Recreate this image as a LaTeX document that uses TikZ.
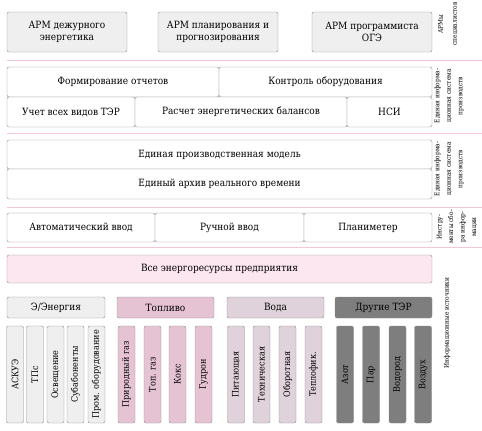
\documentclass[tikz,border=0pt]{standalone}
\usepackage{fontspec}
\setmainfont{DejaVu Serif Condensed}
\definecolor{boxgray}{HTML}{EFEFEF}
\definecolor{edgegray}{HTML}{8C8C8C}
\definecolor{seppink}{HTML}{F5C6D8}
\definecolor{allpink}{HTML}{FCE6EF}
\definecolor{fuelpink}{HTML}{E6C3D3}
\definecolor{watermauve}{HTML}{DFD2DA}
\definecolor{otherdark}{HTML}{7E7E7E}
\tikzset{
  box/.style={draw=edgegray, rounded corners=2pt, inner sep=1pt, align=center, font=\fontsize{10}{12}\selectfont},
  armbox/.style={box, fill=boxgray, minimum width=120pt, minimum height=40pt},
  infobox/.style={box, fill=white, minimum height=30pt},
  allbox/.style={box, fill=allpink, minimum width=425pt, minimum height=28pt},
  headbox/.style={box, minimum width=97pt, minimum height=21pt},
  vbox/.style={box, rotate=90, minimum width=97pt, minimum height=17pt, font=\fontsize{9}{10}\selectfont},
  sidelabel/.style={rotate=90, align=center, inner sep=0pt, font=\fontsize{6.5}{11.5}\selectfont},
  sepline/.style={draw=seppink, line width=0.8pt}
}
\begin{document}
\begin{tikzpicture}[x=1pt, y=-1pt]
\useasboundingbox (0,0) rectangle (482,431);
% workstations
\node[armbox] (duty) at (67,32) {АРМ дежурного\\энергетика};
\node[armbox] (plan) at (218,32) {АРМ планирования и\\прогнозирования};
\node[armbox] (prog) at (372,32) {АРМ программиста\\ОГЭ};
\node[sidelabel, font=\fontsize{6.5}{14}\selectfont] (armlbl) at (448,24) {АРМы\\специалистов};
\coordinate (s1a) at (7,60); \coordinate (s1b) at (482,60);
\draw[sepline] (s1a) -- (s1b);
% applications
\node[infobox, minimum width=212pt] (reports) at (113,82) {Формирование отчетов};
\node[infobox, minimum width=213pt] (control) at (325.5,82) {Контроль оборудования};
\node[infobox, minimum width=128pt] (account) at (71,112) {Учет всех видов ТЭР};
\node[infobox, minimum width=212pt] (balance) at (241,112) {Расчет энергетических балансов};
\node[infobox, minimum width=85pt] (nsi) at (389.5,112) {НСИ};
\node[sidelabel] (applbl) at (449,96) {Единая информа-\\ционная система\\производств};
\coordinate (s2a) at (7,133); \coordinate (s2b) at (482,133);
\draw[sepline] (s2a) -- (s2b);
% model and archive
\node[infobox, minimum width=425pt, minimum height=29pt] (model) at (219.5,154.5) {Единая производственная модель};
\node[infobox, minimum width=425pt] (archive) at (219.5,184) {Единый архив реального времени};
\node[sidelabel] (modlbl) at (449,169) {Единая информа-\\ционная система\\производств};
\coordinate (s3a) at (7,207); \coordinate (s3b) at (482,207);
\draw[sepline] (s3a) -- (s3b);
% input tools
\node[infobox, minimum width=148pt, minimum height=29pt] (auto) at (81,227.5) {Автоматический ввод};
\node[infobox, minimum width=149pt, minimum height=29pt] (manual) at (229.5,227.5) {Ручной ввод};
\node[infobox, minimum width=128pt, minimum height=29pt] (planim) at (368,227.5) {Планиметер};
\node[sidelabel] (toollbl) at (457,227) {Инстру-\\менты сбо-\\ра инфор-\\мации};
\coordinate (s4a) at (7,247.5); \coordinate (s4b) at (482,247.5);
\draw[sepline] (s4a) -- (s4b);
% sources
\node[allbox] (all) at (219.5,269) {Все энергоресурсы предприятия};
\node[headbox, fill=boxgray, minimum width=98pt] (elec) at (56,307.5) {Э/Энергия};
\node[headbox, fill=fuelpink] (fuel) at (165.5,307.5) {Топливо};
\node[headbox, fill=watermauve] (water) at (275.5,307.5) {Вода};
\node[headbox, fill=otherdark] (other) at (383.5,307.5) {Другие ТЭР};
\node[vbox, fill=boxgray] (askue) at (15,374.5) {АСКУЭ};
\node[vbox, fill=boxgray] (tps) at (35,374.5) {ТПс};
\node[vbox, fill=boxgray] (light) at (55.5,374.5) {Освещение};
\node[vbox, fill=boxgray] (subab) at (75.5,374.5) {Субабоненты};
\node[vbox, fill=boxgray] (equip) at (96.5,374.5) {Пром. оборудование};
\node[vbox, fill=fuelpink] (gas) at (126.5,374.5) {Природный газ};
\node[vbox, fill=fuelpink] (fgas) at (152.5,374.5) {Топ. газ};
\node[vbox, fill=fuelpink] (coke) at (177.5,374.5) {Кокс};
\node[vbox, fill=fuelpink] (tar) at (203.5,374.5) {Гудрон};
\node[vbox, fill=watermauve] (feed) at (236,374.5) {Питающая};
\node[vbox, fill=watermauve] (tech) at (261.5,374.5) {Техническая};
\node[vbox, fill=watermauve] (circ) at (287.5,374.5) {Оборотная};
\node[vbox, fill=watermauve] (heat) at (313.5,374.5) {Теплофик.};
\node[vbox, fill=otherdark] (nitro) at (345,374.5) {Азот};
\node[vbox, fill=otherdark] (steam) at (371,374.5) {Пар};
\node[vbox, fill=otherdark] (hydro) at (397.5,374.5) {Водород};
\node[vbox, fill=otherdark] (air) at (423,374.5) {Воздух};
\node[sidelabel] (srclbl) at (447,323) {Информационные источники};
\end{tikzpicture}
\end{document}
